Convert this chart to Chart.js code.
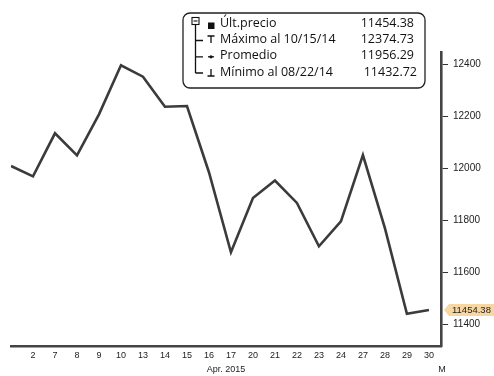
<!DOCTYPE html>
<html>
<head>
<meta charset="utf-8">
<script src="https://cdn.jsdelivr.net/npm/chart.js@4.4.1/dist/chart.umd.min.js"></script>
<style>
  html, body { margin: 0; padding: 0; background: #fff; }
  #wrap { width: 494px; height: 376px; }
</style>
</head>
<body>
<div id="wrap"><canvas id="c" width="494" height="376"></canvas></div>
<script>
// Daily closes, April 2015 (trading days only)
const dayLabels = ['1', '2', '7', '8', '9', '10', '13', '14', '15', '16', '17', '20', '21', '22', '23', '24', '27', '28', '29', '30'];
const closes = [12009, 11969, 12135, 12050, 12208, 12397, 12353, 12237, 12240, 11985, 11677, 11886, 11953, 11867, 11700, 11796, 12051, 11770, 11440, 11454.38];
const yTicks = [11400, 11600, 11800, 12000, 12200, 12400];
const monthLabel = 'Apr. 2015';
const nextMonthLabel = 'M';

// Summary panel
const legendNames = ['Últ.precio', 'Máximo al 10/15/14', 'Promedio', 'Mínimo al 08/22/14'];
const legendValues = ['11454.38', '12374.73', '11956.29', '11432.72'];

const AXIS_FONT = 'Liberation Sans, Arial, sans-serif';
const PANEL_FONT = '"Open Sans", "Noto Sans", sans-serif';

function drawIcon(ctx, kind, x, y) {
  ctx.save();
  ctx.strokeStyle = '#111';
  ctx.fillStyle = '#111';
  ctx.lineWidth = 1.3;
  if (kind === 0) {
    ctx.fillRect(x - 3, y - 1, 6.5, 6.5);
  } else if (kind === 1) {
    ctx.beginPath();
    ctx.moveTo(x - 3.5, y - 3.5); ctx.lineTo(x + 3.5, y - 3.5);
    ctx.moveTo(x, y - 3.5); ctx.lineTo(x, y + 3.5);
    ctx.stroke();
  } else if (kind === 2) {
    ctx.beginPath();
    ctx.moveTo(x - 3, y + 1); ctx.lineTo(x + 3, y + 1);
    ctx.stroke();
    ctx.beginPath();
    ctx.arc(x, y + 1, 1.6, 0, Math.PI * 2);
    ctx.fill();
  } else {
    ctx.beginPath();
    ctx.moveTo(x, y - 3); ctx.lineTo(x, y + 4);
    ctx.moveTo(x - 3.5, y + 4); ctx.lineTo(x + 3.5, y + 4);
    ctx.stroke();
  }
  ctx.restore();
}

const overlay = {
  id: 'overlay',
  afterDraw(chart) {
    const ctx = chart.ctx;
    const xs = chart.scales.x;
    const ys = chart.scales.y;

    // second row of the time axis
    ctx.save();
    ctx.fillStyle = '#222';
    ctx.font = '9px ' + AXIS_FONT;
    ctx.textAlign = 'center';
    ctx.textBaseline = 'middle';
    ctx.fillText(monthLabel, (xs.left + xs.right) / 2, 370);
    ctx.fillText(nextMonthLabel, xs.right + 1, 370);
    ctx.restore();

    // last price tag on the value axis
    const last = closes[closes.length - 1];
    const ty = ys.getPixelForValue(last);
    const tx = ys.left + 3;
    ctx.save();
    ctx.fillStyle = '#f8d6a2';
    ctx.beginPath();
    ctx.moveTo(tx, ty);
    ctx.lineTo(tx + 5, ty - 6);
    ctx.lineTo(chart.width, ty - 6);
    ctx.lineTo(chart.width, ty + 6);
    ctx.lineTo(tx + 5, ty + 6);
    ctx.closePath();
    ctx.fill();
    ctx.fillStyle = '#222';
    ctx.font = '9.5px ' + AXIS_FONT;
    ctx.textAlign = 'left';
    ctx.textBaseline = 'middle';
    ctx.fillText(last.toFixed(2), tx + 8, ty + 0.5);
    ctx.restore();

    // summary panel
    const bx = 183, by = 13, bw = 242, bh = 75;
    ctx.save();
    ctx.fillStyle = '#fff';
    ctx.strokeStyle = '#222';
    ctx.lineWidth = 1.3;
    ctx.beginPath();
    ctx.roundRect(bx, by, bw, bh, 7);
    ctx.fill();
    ctx.stroke();

    const rowY = [23.5, 39.5, 55.8, 72];
    // collapse box
    ctx.lineWidth = 1.1;
    ctx.strokeStyle = '#111';
    ctx.strokeRect(192, 17.5, 7, 7);
    ctx.beginPath();
    ctx.moveTo(193.5, 21); ctx.lineTo(197.5, 21);
    ctx.stroke();
    // tree connectors
    ctx.lineWidth = 1.3;
    ctx.beginPath();
    ctx.moveTo(195.5, 24.5); ctx.lineTo(195.5, rowY[3] + 1);
    for (let i = 1; i < 4; i++) {
      ctx.moveTo(195.5, rowY[i] + 1); ctx.lineTo(203, rowY[i] + 1);
    }
    ctx.stroke();

    ctx.font = '12.5px ' + PANEL_FONT;
    ctx.textBaseline = 'middle';
    ctx.fillStyle = '#111';
    for (let i = 0; i < 4; i++) {
      drawIcon(ctx, i, 211, rowY[i]);
      ctx.textAlign = 'left';
      ctx.fillText(legendNames[i], 220, rowY[i]);
      ctx.textAlign = 'right';
      ctx.fillText(legendValues[i], i === 3 ? 417 : 414, rowY[i]);
    }
    ctx.restore();
  }
};

new Chart(document.getElementById('c').getContext('2d'), {
  type: 'line',
  data: {
    datasets: [{
      data: closes.map((v, i) => ({ x: i, y: v })),
      borderColor: '#3b3b3b',
      borderWidth: 2.6,
      borderJoinStyle: 'miter',
      pointRadius: 0,
      tension: 0,
      fill: false
    }]
  },
  options: {
    responsive: false,
    animation: false,
    devicePixelRatio: 1,
    layout: { padding: { left: 11, top: 52, right: 0, bottom: 0 } },
    plugins: { legend: { display: false }, tooltip: { enabled: false } },
    scales: {
      x: {
        type: 'linear',
        min: 0,
        max: 19.55,
        afterBuildTicks: s => { s.ticks = dayLabels.map((d, i) => ({ value: i })).slice(1); },
        afterFit: s => { s.height = 30; },
        ticks: {
          autoSkip: false,
          maxRotation: 0,
          padding: 4,
          color: '#222',
          font: { family: AXIS_FONT, size: 9 },
          callback: v => dayLabels[v]
        },
        grid: { display: false, drawTicks: false },
        border: { display: true, color: '#444', width: 2.6 }
      },
      y: {
        position: 'right',
        min: 11316,
        max: 12448,
        afterBuildTicks: s => { s.ticks = yTicks.map(v => ({ value: v })); },
        afterFit: s => { s.width = 53; },
        ticks: {
          padding: 5,
          color: '#222',
          font: { family: AXIS_FONT, size: 10 },
          callback: v => String(v)
        },
        grid: { display: true, drawOnChartArea: false, drawTicks: true, tickLength: 7, color: '#333', lineWidth: 1 },
        border: { display: true, color: '#444', width: 2.6 }
      }
    }
  },
  plugins: [overlay]
});
</script>
</body>
</html>
